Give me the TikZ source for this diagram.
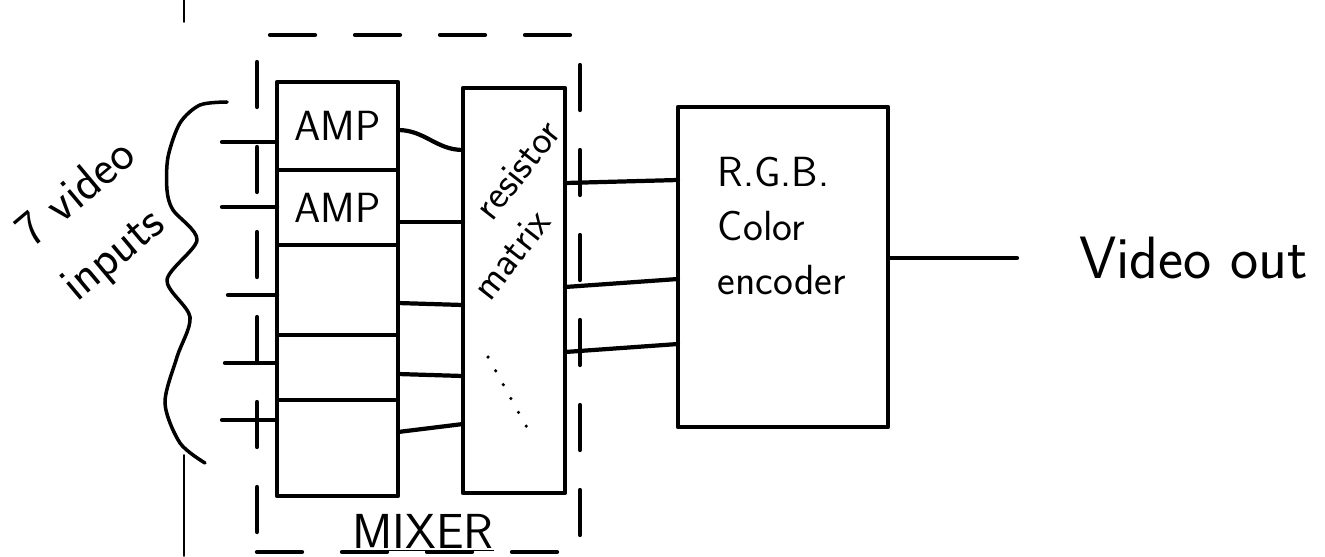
\documentclass[tikz,border=0pt]{standalone}
\usepackage{tikz}
\usetikzlibrary{positioning}

\begin{document}
\begin{tikzpicture}[x=0.2mm, y=-0.2mm, line width=2.4pt, line cap=round, line join=round,
  cell/.style = {draw, minimum width=24.2mm, outer sep=0pt, inner sep=0pt, font=\sffamily\fontsize{24}{28}\selectfont},
  block/.style = {draw, outer sep=0pt, inner sep=0pt},
  mixbox/.style = {draw, dash pattern=on 9mm off 8mm, minimum width=64.6mm, minimum height=103.4mm},
  hand/.style = {inner sep=0pt, font=\sffamily}]
\useasboundingbox (0,0) rectangle (1325,556);

% edge of the scanned sheet
\draw[line width=1pt] (184,0) -- (184,22);
\draw[line width=1pt] (184,455) -- (184,556);

% mixer
\node[mixbox] (mix) at (418.5,293.5) {};
\node[cell, minimum height=17.6mm] (amp1) at (337.5,126) {AMP};
\node[cell, minimum height=15mm, below=0pt of amp1] (amp2) {AMP};
\node[cell, minimum height=18mm, below=0pt of amp2] (amp3) {};
\node[cell, minimum height=13mm, below=0pt of amp3] (amp4) {};
\node[cell, minimum height=19.2mm, below=0pt of amp4] (amp5) {};
\node[block, minimum width=20.4mm, minimum height=81mm] (res) at (514,290.5) {};
\node[hand, rotate=52, align=left, font=\sffamily\fontsize{23}{27}\selectfont] (restxt) at (516,210) {\hspace*{37pt}resistor\\matrix};
\draw[line width=2pt, dash pattern=on 0pt off 9pt] (488,357) -- (530,433);
\node[hand, anchor=base] (mixlbl) at (423,548) {\fontsize{28}{28}\selectfont\underline{MIXER}};

% encoder
\node[block, minimum width=42mm, minimum height=64mm] (enc) at (783,267) {};
\node[hand, align=left, font=\sffamily\fontsize{24}{31}\selectfont] (enctxt) at (782,226) {R.G.B.\\Color\\encoder};

% inputs
\coordinate (in1) at (222,142);
\coordinate (in2) at (222,207);
\coordinate (in3) at (228,295);
\coordinate (in4) at (225,363);
\coordinate (in5) at (222,420);
\draw (in1) -- (in1 -| amp1.west);
\draw (in2) -- (in2 -| amp2.west);
\draw (in3) -- (in3 -| amp3.west);
\draw (in4) -- (in4 -| amp4.west);
\draw (in5) -- (in5 -| amp5.west);
\draw[line width=2pt] plot[smooth] coordinates {(227,102) (200,105) (180,123) (168,157) (167,190) (173,210) (197,240) (167,280) (190,317) (177,357) (165,403) (180,443) (205,463)};
\node[hand, rotate=40, align=left, font=\sffamily\fontsize{28}{40}\selectfont] (lbl) at (100,222) {7 video\\inputs};

% amps to matrix
\draw (amp1.east |- 0,130) to[out=0, in=180] (res.west |- 0,150);
\draw (amp2.east |- 0,222) -- (res.west |- 0,222);
\draw (amp3.east |- 0,303) -- (res.west |- 0,305);
\draw (amp4.east |- 0,374) -- (res.west |- 0,376);
\draw (amp5.east |- 0,432) -- (res.west |- 0,424);

% matrix to encoder
\draw (res.east |- 0,183) -- (enc.west |- 0,180);
\draw (res.east |- 0,287) -- (enc.west |- 0,279);
\draw (res.east |- 0,352) -- (enc.west |- 0,344);

% output
\coordinate (vout) at (1017,258);
\draw (enc.east |- vout) -- (vout);
\node[hand, right=12mm of vout] (vlbl) {\fontsize{34}{34}\selectfont Video out};
\end{tikzpicture}
\end{document}
